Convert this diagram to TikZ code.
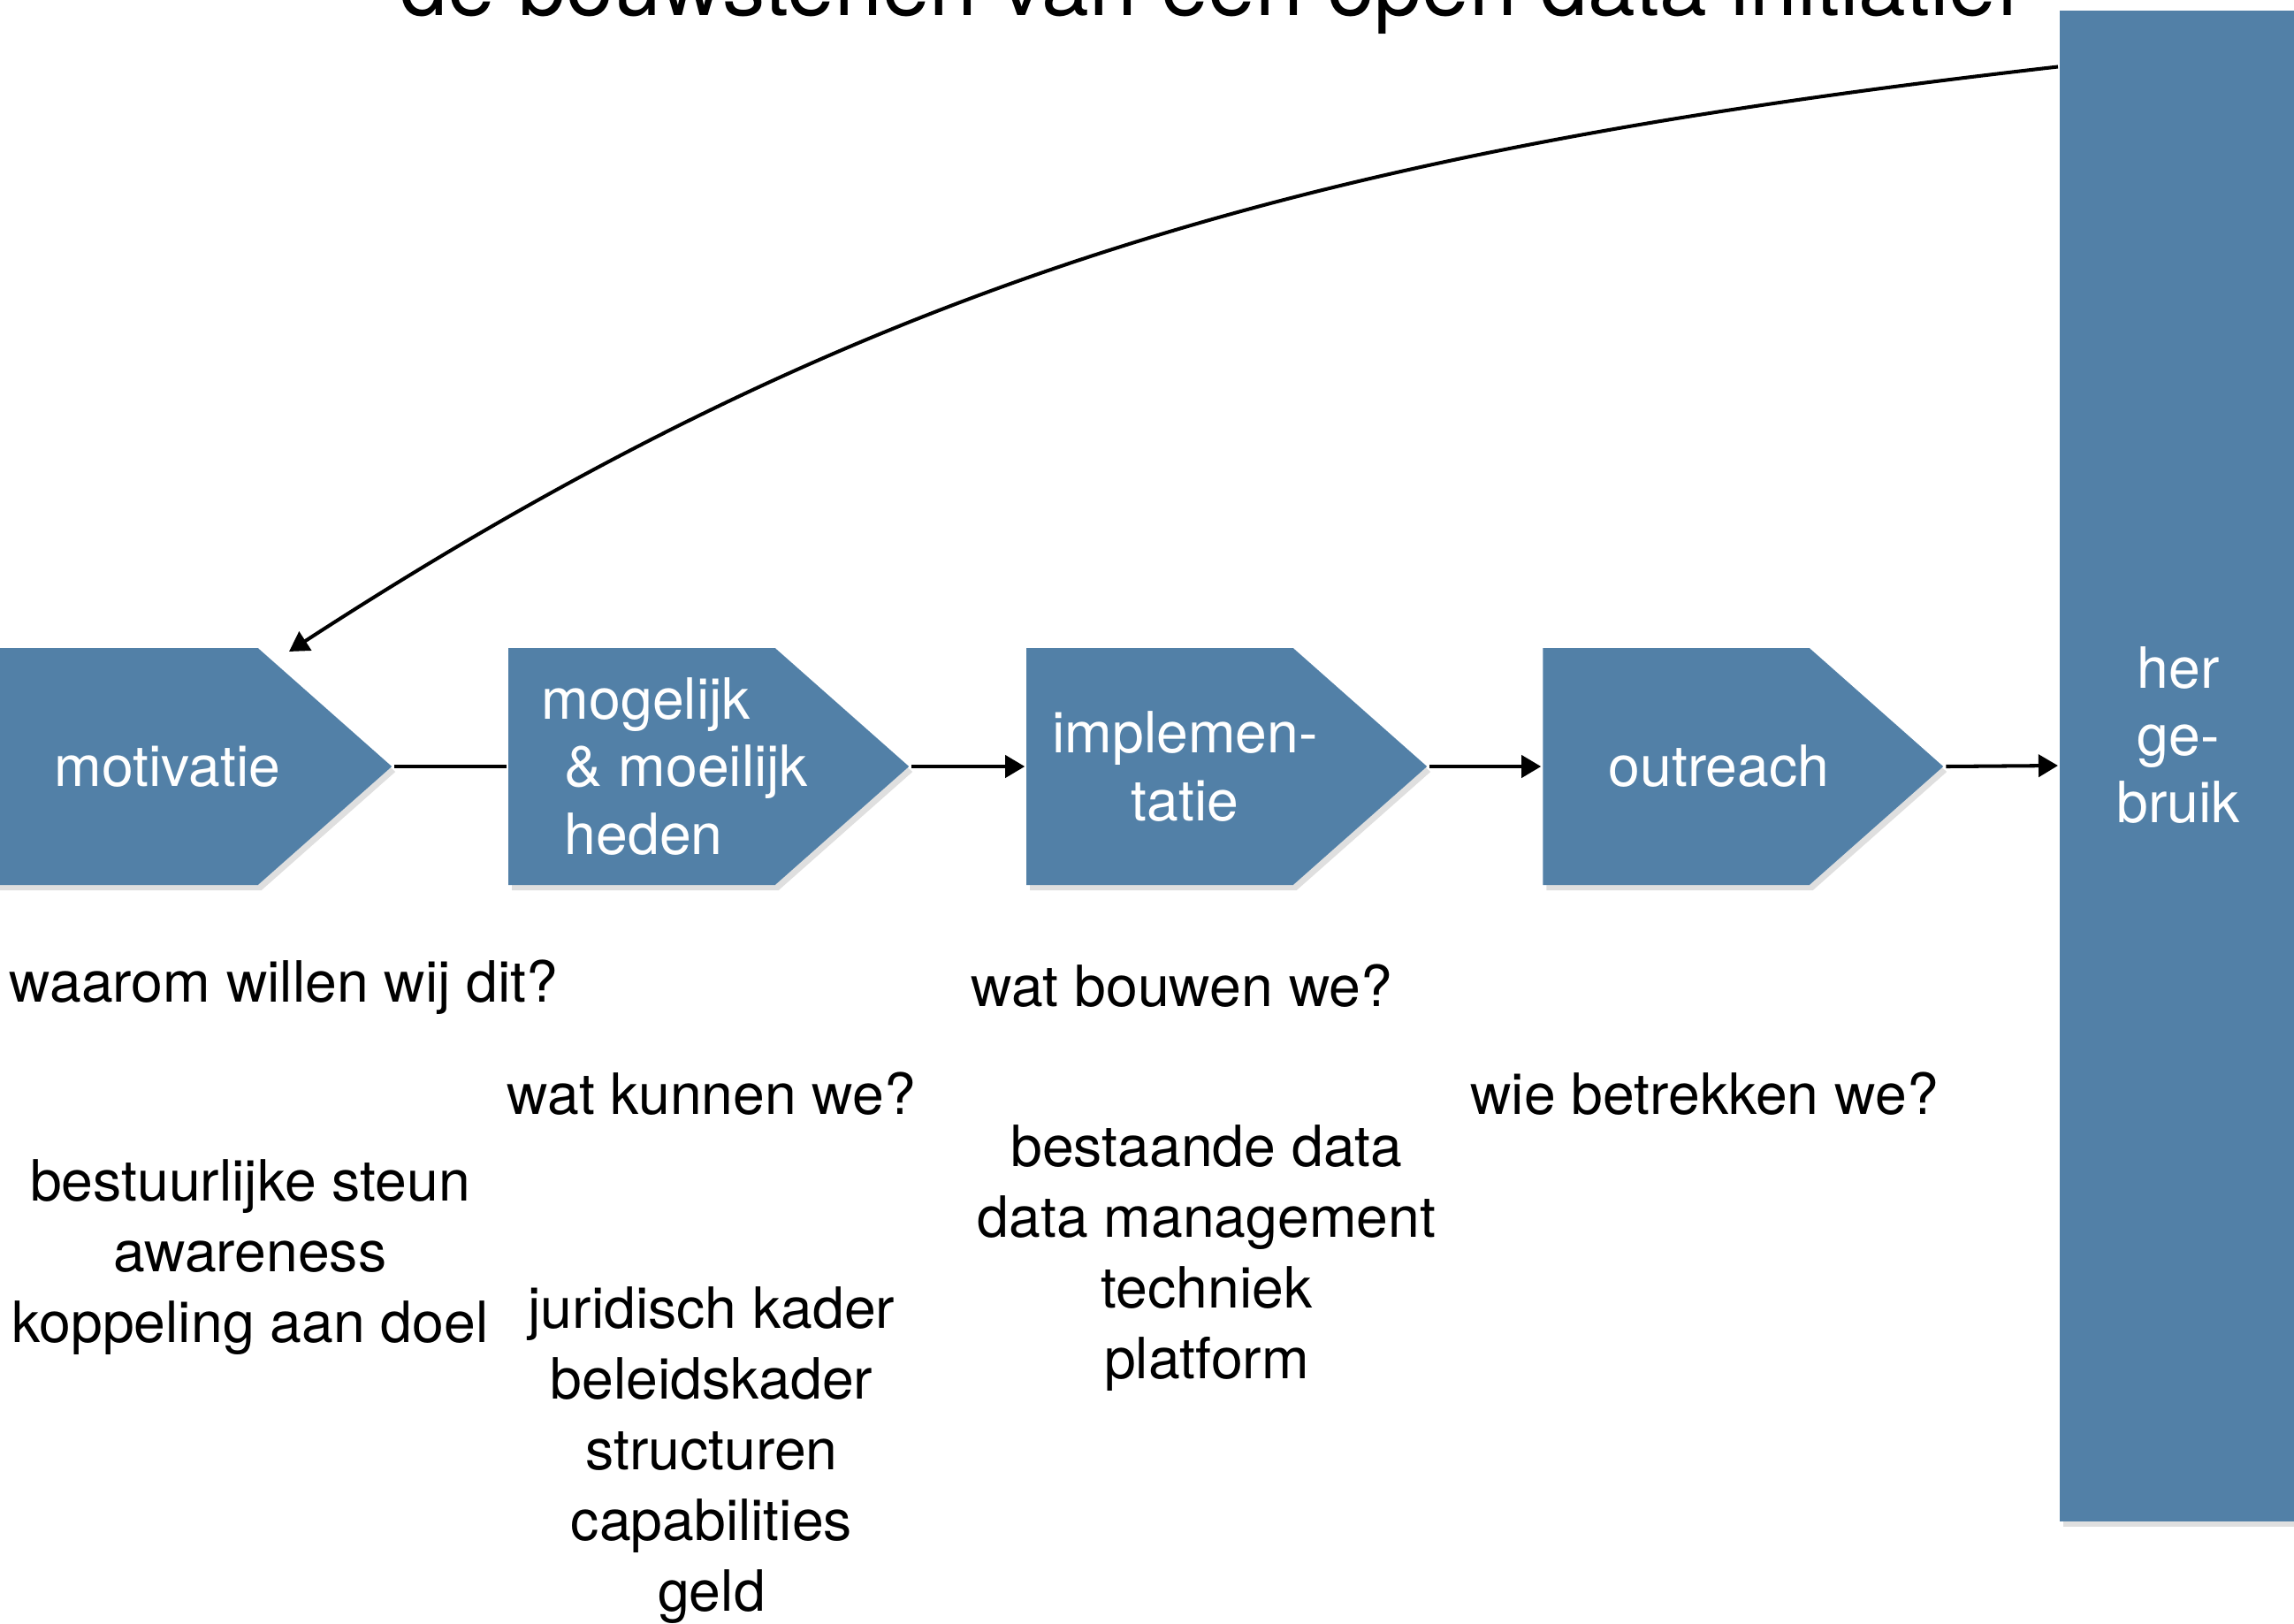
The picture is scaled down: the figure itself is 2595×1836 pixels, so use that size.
\documentclass[tikz,border=0pt]{standalone}
\usepackage{fontspec}
\setmainfont{TeX Gyre Heros}
\usetikzlibrary{arrows.meta,shapes.symbols,shadows}
\definecolor{stageblue}{RGB}{82,128,167}
\tikzset{
  stage/.style={signal,signal to=east,signal pointer angle=83,fill=stageblue,
    minimum width=45.3mm,minimum height=26.8mm,inner sep=0pt,
    drop shadow={shadow xshift=0.4mm,shadow yshift=-0.6mm,opacity=0.25}},
  boxtext/.style={white,font=\fontsize{18.3}{21.7}\selectfont},
  note/.style={font=\fontsize{18.3}{22.8}\selectfont,align=center,inner sep=0pt}
}
\begin{document}
\begin{tikzpicture}[x=0.1mm,y=-0.1mm,>={Triangle[length=2.2mm,width=2.5mm]},line width=1.15pt]
\useasboundingbox (0,0) rectangle (2595,1836);
\node[anchor=base,font=\fontsize{27.5}{33}\selectfont] (title) at (1369,17) {de bouwstenen van een open data initiatief};
\node[stage,label={[boxtext,xshift=4.85mm]center:motivatie}] (motivatie) at (141,867) {};
\node[stage,label={[boxtext,align=left,xshift=3.75mm]center:mogelijk\\\hspace*{2.6mm}\& moeilijk\\\hspace*{2.6mm}heden}] (mogelijk) at (726,867) {};
\node[stage,label={[boxtext,align=center,xshift=2.85mm]center:implemen-\\tatie}] (implementatie) at (1312,867) {};
\node[stage,label={[boxtext,xshift=4.85mm]center:outreach}] (outreach) at (1896,867) {};
\node[fill=stageblue,minimum width=30mm,minimum height=170.9mm,inner sep=0pt,
  drop shadow={shadow xshift=0.4mm,shadow yshift=-0.6mm,opacity=0.25},
  label={[boxtext,align=center,xshift=-1.6mm,yshift=3.45mm]center:her\\ge-\\bruik}] (hergebruik) at (2480,866) {};
\draw (motivatie.east) -- (mogelijk.west);
\foreach \a/\b in {mogelijk/implementatie,implementatie/outreach,outreach/hergebruik}{
    \draw[->] (\a.east) -- (\b.west);
    }
\draw[->] ([yshift=-6.6mm]hergebruik.north west) .. controls (1506,169) and (990,306) .. ([xshift=18.6mm,yshift=-0.6mm]motivatie.north);
\node[note] (waarom) at (321,1117) {waarom willen wij dit?};
\node[note] (kunnen) at (805,1237) {wat kunnen we?};
\node[note] (bouwen) at (1337,1115) {wat bouwen we?};
\node[note] (betrekken) at (1928,1237) {wie betrekken we?};
\node[note] (steun) at (283,1422) {bestuurlijke steun\\awareness\\koppeling aan doel};
\node[note] (kader) at (805,1646) {juridisch kader\\beleidskader\\structuren\\capabilities\\geld};
\node[note] (data) at (1365,1423) {bestaande data\\data management\\techniek\\platform};
\end{tikzpicture}
\end{document}
